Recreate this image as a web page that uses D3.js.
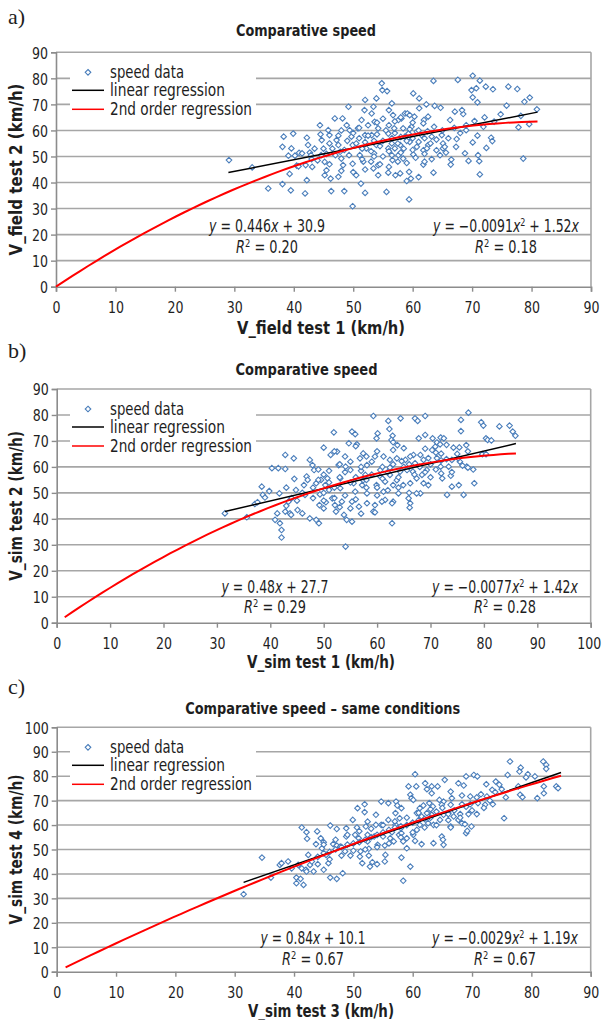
<!DOCTYPE html>
<html><head><meta charset="utf-8">
<script src="https://cdn.jsdelivr.net/npm/d3@7"></script>
<style>body{margin:0;background:#fff}svg{display:block}</style>
</head><body>
<svg id="chart" width="604" height="1020"></svg>
<script>
// ---------- data ----------
const speedA = [[29.1,48.6],[33,45.8],[35.7,37.7],[38.1,53.7],[38.3,57.6],[39.9,58.8],[39.6,53.1],[39.1,50.3],[40.2,50.3],[40.9,51.4],[39.3,43.3],[38.1,39.4],[39.5,37],[40.5,46.5],[40.8,46.2],[41.9,35.8],
[42.2,57.2],[42.4,54.4],[42.7,51.5],[41.4,51.2],[42,46.7],[42.2,40.9],[43.1,46],[42.9,50.5],[44.4,62],[44.7,56.3],[45,53],[44.6,50.5],[45.2,47.9],[45.5,44.7],[45.2,42.8],[46.2,41.5],[46.3,36.7],[45.8,60.1],[46,58.2],
[46.9,64.6],[47.2,56.3],[47.5,54.4],[47.8,51.8],[48,49.2],[48.3,46.7],[47.5,42.2],[48.5,36.7],[48.2,64.6],[49.2,69.1],[48.9,62],[49.4,60.1],[49.7,57.6],[49.9,54.4],[49.3,50.5],[49.9,47.2],[50.5,42.8],[49.9,30.9],
[52,71.7],[51.9,67.8],[51.4,64],[50.8,60.8],[52,58.2],[52.2,53.1],[51.1,50.5],[51.7,48],[51.3,39.6],[52,36],[53.9,72.3],[53.4,69.1],[53.1,66.5],[53.6,63.3],[54.2,60.8],[53.1,58.2],[53.9,54.4],[53.5,51.2],[54.2,46.7],[53.4,45.4],[54.2,42.8],[54.8,78.1],[54.9,75.5],
[63.5,79],[67.6,79.4],[70.1,81],[71.3,79.1],[72.3,76.8],[73.5,75.8],[76.1,76.8],[77.6,75.9],[69.9,75.5],[70.7,76.2],[70.1,72.7],[70.9,70.8],[55.7,75.1],[60.1,74.2],[61.1,72.3],[78.8,71],[79.7,72.6],[80.9,68.1],[75.8,69.5],[78.2,65.6],[79.6,62.4],[77.8,61.2],[74.8,66.2],[73.7,63.4],[72.1,65],[71.9,61.4],[70.4,63.6],[69,60.1],[68.5,66.3],[68.3,67.8],[67.1,67.2],[66.3,64],[67.4,56.7],[67.3,53.7],[68.8,51.2],[70.1,55.4],[70.9,58],[71,50.5],[69.4,48.3],[71.2,48.2],[72.4,53.3],[73.2,57.2],[73.4,55.9],[71.3,43.1],[78.6,49.2],
[66.5,48.8],[66.4,46.9],[65.6,51.5],[65.1,55],[64.9,58.2],[63.6,61.4],[64.7,68.7],[63.7,69.4],[62.3,70],[62.6,65.3],[61.9,64],[61.1,68.5],[60.3,65.3],[59.8,61.4],[60.7,59.5],[61.8,62.7],[62.5,59.7],[63.2,57.6],[62.6,54.4],[64,52.4],[64.6,50.5],[63.2,49],[61.8,46.9],[63.5,43.8],[61,42.1],[59.4,44.1],[59.7,41.5],[59,40.6],[57.9,43.5],[57.1,42.8],[55.9,43.8],[59.4,33.5],[60.1,50.8],[60.7,53.7],[59.5,55.6],[58.7,57.6],[59.3,58.8],[58.4,60.8],[57.6,64],[56.7,65.9],[56,67.8],[56.5,70.4],[58.1,64.6],[58.7,66.5],[59.1,66.5],[59.5,65.9],[57,53.1],[57.9,54.4],[56.5,55],[55.9,58.8],[56.9,60.8],[57.6,50.5],[58.4,49.2],[56.6,48.6],[55.9,53.1],[61,55.6],[61.5,58.2],[61.8,52.4],[62.4,53.1],[65.1,53.1],[65.4,53.7],[55.6,36.4],
[50.5,55],[51,57],[51.5,53],[52,55.5],[52.5,58],[53,52],[53.5,56],[54,58.5],[54.5,54],[55,56],[55.5,60],[56,52],[56.5,57],[57,59],[57.5,55],[58,57.5],[58.5,53],[59,56],[59.5,60.5],[60,57],[50,59],[49,56],[48.5,52.5],[47,50.5],[46.5,53],[46,55],[45.5,51],[44,48.5],[43.5,53],[43,49],[44.5,58.5],[47.5,58],[48,60],[51,61],[52.5,62],[54,63],[55,64.5],[56,62],[57,63.5],[58,65],[60,63],[61,60],[62,57],[63,55],[64,56.5],[65,60],[66,57],[67,61],[68,59],[69,62],[53,48],[54.5,47],[56,46],[57.5,48],[59,47.5],[60.5,49.5],[62,48],[52,45],[50,44],[48,44.5],[46,47],[55,50],[56.5,50.5],[58,51.5],[60,52.5],[62,51],[51.5,49],[53.5,50]];

const speedB = [[31.5,42.1],[35.6,40.6],[37.1,45.7],[37.6,46.4],[38.6,49.2],[38.4,52.4],[39,48.2],[39.8,50.7],[40.3,59.5],[41.5,59.5],[42.8,64.6],[42.8,59.2],[44.4,63.3],[44.5,55.4],[40.9,39.6],[41.8,38.3],[42.1,35.7],[42.1,32.8],[41.3,42.1],[42.8,42.8],[43.7,42.1],[43.4,46.6],[41.7,49.8],[43,52],[44.8,51.1],[45.1,43.4],[43.9,41.5],[46,42.1],[46.5,49.2],[46.3,53],[46.8,56.3],[47.4,62.7],[47.9,60.7],[48.2,58.8],[47.4,40.2],[48.6,39.6],[49.1,38.3],[50,67.4],[49.3,49.4],[49.2,45.3],[50,44],[50.3,53],[50.7,55.6],[51,51.1],[51.3,64.6],[51.9,73.3],[51.6,47.9],[52.1,45.3],[52.3,42.8],[52.5,65.9],[52.8,60.7],[53.1,55.6],[53.1,51.8],[53.4,46.6],[53.8,41.5],[54.1,29.3],[54.3,39.6],[55.3,38.9],[54.7,69.1],[55.3,73.6],[55.9,72.6],[56.2,68.7],[54.1,60.1],[55,58.8],[55.6,53.7],[55.9,50.5],[55.3,46.6],[56.6,44.7],[56.8,63.3],[57.4,65.2],[58.1,60.7],[57.8,56.9],[57.2,53],[58.1,49.8],[58.1,46],[57.4,54.9],[50.4,46.4],[48.6,53.7],[49.5,55],
[59.3,79.6],[62.1,77.7],[64.4,78.7],[67.1,78.7],[67.6,77.7],[69,79.6],[75.7,78.1],[77.1,80.9],[79.5,77.2],[79.9,75.9],[82.9,75.6],[84.8,75.9],[85.4,73.6],[85.9,72],[75.7,73.8],[62.3,74.6],[60.1,72.9],[59.9,71],[62.9,72],[62.7,70.4],[63,69.5],[67.8,71],[69,72.3],[70.4,71],[71.9,71.3],[72.5,71],[71.2,69.4],[70.9,67.8],[70.3,66.5],[71.8,68.7],[73,68.5],[74.3,67.4],[75.4,67.5],[76.7,68.4],[80.4,71],[80.7,70.4],[81.4,70.2],[79.7,64.9],[80.4,64.9],[76.8,60.1],[77,59.7],[78.2,53.7],[76.2,49.2],[73.1,49.2],[75.3,53],[74,52.4],[73.8,56.6],[72.2,55.6],[71.9,60.1],[73.4,60.1],[75.5,62],[75.2,63.3],[74,62.7],[71.2,63.4],[72,65.1],[69.6,63.4],[68.7,62.7],[68.1,64.6],[66.8,64.6],[66.2,64],[65.3,62.7],[64.6,62.2],[63.7,63.3],[62.4,62.7],[61.2,64],[59.6,64],[69.3,58.8],[68.4,56.9],[67.4,55.6],[69.6,53],[68.7,53.7],[68.1,49.8],[67.4,49.8],[66.2,53.7],[64.9,53],[63.7,54.9],[62.4,56.9],[61.5,54.3],[60.6,56.3],[59.9,53],[61.2,50.5],[63,46.6],[62.8,46],[64,49.8],[66.2,46],[66.1,44.3],[65.9,47.9],[61.5,47.3],[60.9,46.6],[59.6,45.3],[59.3,42.8],[59.6,42.5],[62.8,38.3],[64.3,58.2],[65.6,58.8],[66.7,58.2],[62.4,59.7],[60.6,58.8],[67.1,61.4],[65,67.2],[63,66.5],[63.8,68.4],
[48,52],[49,55],[50,57],[51,54],[52,52],[53,56],[54,58],[55,54],[56,56],[57,58.5],[58,55],[59,57],[60,52],[61,55.5],[62,58],[63,53],[64,56],[65,60],[66,61],[67,57],[68,60],[69,58],[70,61],[71,59],[72,62.5],[50,50],[52,48],[54,49],[56,47.5],[58,52],[60,49],[61,60],[63,61],[53,61],[55,62],[57,60],[51,58.5],[49,59],[47,55],[46,50],[45,47],[44,48],[43,45],[48,48],[50,47],[55,44],[57,42],[53,44.5],[62,51],[64,52],[66,50],[70,56],[72,57.5],[74,58],[76,60.5],[78,59],[73,63],[75,65],[77,66],[71,65.5],[69,67],[58,64],[60,66],[56,68],[54,64],[52,66],[59,62]];

const speedC = [[31.5,31.7],[34.6,46.7],[36.1,38.5],[37.6,43.7],[37.9,44.4],[39,45.1],[39.6,42.3],[40.4,36.2],[40.4,38.5],[41.1,38],[41.6,35.5],[41.3,42.3],[40.7,43.7],[42,41.7],[42.4,47.8],[42.7,43.7],[42.1,41],[43,45.1],[43.3,41],[43.9,57.4],[44,44],[44.7,50.5],[45,41.7],[45.8,44.4],[46.1,38.5],[47.2,38],[41.3,59],[42.1,57.1],[42.2,54.4],[43.7,52.2],[44.5,54.6],[45,53],[45.4,47.8],[46.1,59.8],[46.6,52.2],[47.2,58.4],[47.2,51.6],[47.8,51.2],[48.2,40.3],[48.6,49.2],[48.8,58.7],[48.8,55.3],[49.5,47.5],[49.9,62.1],[50.3,56],[50.7,66.9],[50.6,59],[50.9,54.6],[51.2,49.2],[51.1,47.1],[51.5,44.4],[51.9,68.5],[51.9,65.3],[52.4,61.4],[52.1,59.4],[52.4,56],[52.4,53.3],[52.6,50.3],[52.6,47.5],[52.8,43],[53.2,44.8],[53.8,64.2],[53.8,60.1],[53.5,55.3],[54.1,51.9],[54,44],[54.7,69.6],[54.7,60.1],[55,55.3],[55.3,51.6],[55.4,47.8],[55.3,45.1],[55.9,69],[55.9,62.1],[56.2,54.6],[56.5,57.1],[56.8,53.3],[57.1,64.9],[57.1,60.1],[57.2,69.6],[57.4,68],[57.7,56],[57.8,62.8],[58,58.7],[58.1,66.9],
[60.4,80.8],[59.3,75.8],[60.6,75.8],[59.6,72.4],[59.8,71],[60.1,70.3],[62.1,77.1],[62.4,74.7],[63.2,75.8],[63.2,73],[64.2,75.8],[65.4,78.5],[66.4,73.7],[67.7,77.1],[68.6,76.2],[69,79.9],[70.3,80.5],[70.9,79.9],[72.4,76.7],[74,77.8],[74.6,76.5],[75,74.7],[73.4,74.4],[73.9,73.5],[76.4,86],[78.2,83.5],[78,81.9],[79.4,80.8],[79.1,79.5],[80.6,79.9],[82,86],[82.5,84.6],[82.5,83],[84.2,75.8],[84.5,75.1],[82.1,75.8],[82.1,73],[81,71],[78.1,72.4],[78.5,71.4],[77.8,75.8],[75.7,71.3],[75.4,62.8],[73.5,68.5],[72.5,71.7],[71.5,72.6],[69.7,71.7],[69.7,68.5],[68.3,72.1],[68.3,68.5],[66.6,71],[66.4,68.3],[65.2,69.6],[64.9,68.3],[64.5,70.3],[63.4,67.6],[62.8,69],[61.8,68],[61.2,66.9],[60.7,64.9],[61.5,63.5],[62.4,64.9],[63.2,64.2],[64,65.5],[65.2,64.2],[66,64.9],[66.9,63.5],[68,64.5],[69.4,64.5],[70.8,64.5],[72.2,68.3],[68.3,60.8],[67.7,62.1],[66.4,59.4],[64.6,62.1],[63.5,60.1],[62.6,60.8],[61.2,60.1],[60.7,58],[60.1,56],[59,54.6],[58.4,53.3],[58.1,56.7],[60.4,53.5],[61.5,52.2],[63.5,52.6],[64.9,55.3],[65.2,51.9],[65.1,54],[66.4,59],[69,56.7],[69.2,57.6],[69.9,59.4],[68.8,60.4],[59.6,43],[58.4,37.2],[58.1,46.7],[59,50.5],[70.8,71.3],[76,80.5],
[44,47],[45,48.5],[46,49],[47,50],[48,51],[49,52],[50,52.5],[51,53],[52,54],[53,55],[54,56],[55,57],[56,58],[57,59],[58,59.5],[59,60],[60,61],[61,62],[62,62.5],[63,63],[46,46],[48,47.5],[50,49.5],[52,50],[54,51],[56,52.5],[58,55],[60,57],[62,59],[64,60],[66,62],[45,52],[47,54],[49,56],[51,57.5],[53,58.5],[55,60],[57,61.5],[59,63],[61,65],[63,66.5],[65,67],[67,66],[69,67.5],[71,69],[73,70],[70,66],[72,67],[68,63],[66,64.5]];

// regression coefficients as printed on the chart
const linA = [0.446, 30.9], quadA = [-0.0091, 1.52];
const linB = [0.48, 27.7],  quadB = [-0.0077, 1.42];
const linC = [0.84, 10.1],  quadC = [-0.0029, 1.19];
const r2A = ["0.20", "0.18"], r2B = ["0.29", "0.28"], r2C = ["0.67", "0.67"];
const ticks90 = [0,10,20,30,40,50,60,70,80,90];
const ticks100 = [0,10,20,30,40,50,60,70,80,90,100];
const legendLabels = ["speed data", "linear regression", "2nd order regression"];

// ---------- drawing ----------
const svg = d3.select("#chart");
const NARROW = "'DejaVu Sans Condensed','Liberation Sans Narrow',sans-serif";
const GRID = "#a6a6a6", AXIS = "#8c8c8c", MARK = "#4a7ebb", INK = "#1e1e1e";
const fit = (sel, w) => sel.attr("textLength", w).attr("lengthAdjust", "spacingAndGlyphs");

const panels = [
  {tag:"a)", tagY:24, title:"Comparative speed", titleY:36, titleX:306, titleW:140,
   xLabel:"V_field test 1 (km/h)", yLabel:"V_field test 2 (km/h)", xLabelY:334, xLabelW:168, yLabelW:172,
   x0:56, x1:591, yTop:52.3, yBot:286.7, xMax:90, yMax:90, xt:ticks90, yt:ticks90,
   data:speedA, lin:linA, linR:[29,81], quad:quadA, quadR:[0,81], r2:r2A,
   eqL:[267,"0.446","+ 30.9",116], eqR:[506,"0.0091","1.52",146], eqY:[232,253]},
  {tag:"b)", tagY:358, title:"Comparative speed", titleY:375, titleX:306.5, titleW:142,
   xLabel:"V_sim test 1 (km/h)", yLabel:"V_sim test 2 (km/h)", xLabelY:667.5, xLabelW:148, yLabelW:150,
   x0:56.7, x1:590.7, yTop:389, yBot:622.7, xMax:100, yMax:90, xt:ticks100, yt:ticks90,
   data:speedB, lin:linB, linR:[31.5,86], quad:quadB, quadR:[1.5,86], r2:r2B,
   eqL:[275,"0.48","+ 27.7",107], eqR:[505,"0.0077","1.42",146], eqY:[592.5,613]},
  {tag:"c)", tagY:694, title:"Comparative speed \u2013 same conditions", titleY:714, titleX:322.7, titleW:275,
   xLabel:"V_sim test 3 (km/h)", yLabel:"V_sim test 4 (km/h)", xLabelY:1016.5, xLabelW:146, yLabelW:150,
   x0:56.7, x1:590.7, yTop:727.3, yBot:971.7, xMax:90, yMax:100, xt:ticks90, yt:ticks100,
   data:speedC, lin:linC, linR:[31.5,85], quad:quadC, quadR:[1.5,85], r2:r2C,
   eqL:[313,"0.84","+ 10.1",105], eqR:[505,"0.0029","1.19",146], eqY:[944,964.5]}
];

const diamond = r => `M0,${-r}L${r},0L0,${r}L${-r},0Z`;

// a text made of several runs, scaled horizontally to a target width
function richText(parent, cx, cy, width, runs) {
  const gg = parent.append("g");
  const t = gg.append("text").attr("x",0).attr("y",0).attr("text-anchor","middle")
    .style("font-family",NARROW).style("font-size","17px").attr("fill",INK);
  runs.forEach(r => {
    const s = t.append("tspan").text(r.t);
    if (r.i) s.style("font-style","italic");
    if (r.sup) s.attr("dy",-6).style("font-size","11px");
    if (r.down) s.attr("dy",6);
  });
  const w = t.node().getComputedTextLength();
  gg.attr("transform",`translate(${cx},${cy}) scale(${width/w},1)`);
}

panels.forEach(p => {
  const g = svg.append("g");
  const x = d3.scaleLinear().domain([0,p.xMax]).range([p.x0,p.x1]);
  const y = d3.scaleLinear().domain([0,p.yMax]).range([p.yBot,p.yTop]);

  // panel tag
  g.append("text").attr("x",8).attr("y",p.tagY).attr("fill",INK)
    .style("font-family","'Liberation Serif','DejaVu Serif',serif").style("font-size","22px").text(p.tag);
  // title
  fit(g.append("text").attr("x",p.titleX).attr("y",p.titleY).attr("text-anchor","middle").attr("fill",INK)
    .style("font-family",NARROW).style("font-weight","bold").style("font-size","16px").text(p.title), p.titleW);

  // gridlines
  g.append("g").selectAll("line").data(p.yt.filter(v=>v>0)).join("line")
    .attr("x1",p.x0).attr("x2",p.x1).attr("y1",d=>y(d)).attr("y2",d=>y(d))
    .attr("stroke",GRID).attr("stroke-width",1.6);
  // right border
  g.append("line").attr("x1",p.x1).attr("x2",p.x1).attr("y1",p.yTop).attr("y2",p.yBot)
    .attr("stroke",GRID).attr("stroke-width",1.6);

  // axes
  const ax = g.append("g").attr("transform",`translate(0,${p.yBot})`)
    .call(d3.axisBottom(x).tickValues(p.xt).tickSize(5).tickPadding(6));
  const ay = g.append("g").attr("transform",`translate(${p.x0},0)`)
    .call(d3.axisLeft(y).tickValues(p.yt).tickSize(5).tickPadding(3));
  [ax,ay].forEach(a => {
    a.select(".domain").attr("stroke",AXIS).attr("stroke-width",1.6);
    a.selectAll(".tick line").attr("stroke",AXIS).attr("stroke-width",1.4);
    a.selectAll("text").style("font-family",NARROW).style("font-size","16px").attr("fill",INK)
      .each(function(d){ fit(d3.select(this), String(d).length*8); });
  });
  ax.selectAll("text").attr("dy","0.94em");
  ax.selectAll("text").filter(d => d >= 100).attr("dx", -2);
  ay.selectAll("text").attr("dy","0.36em");

  // axis titles
  fit(g.append("text").attr("x",321).attr("y",p.xLabelY).attr("text-anchor","middle").attr("fill",INK)
    .style("font-family",NARROW).style("font-weight","bold").style("font-size","17px").text(p.xLabel), p.xLabelW);
  fit(g.append("text").attr("transform",`translate(22,${(p.yTop+p.yBot)/2}) rotate(-90)`)
    .attr("text-anchor","middle").attr("fill",INK)
    .style("font-family",NARROW).style("font-weight","bold").style("font-size","18px").text(p.yLabel), p.yLabelW);

  // scatter
  g.append("g").selectAll("path").data(p.data).join("path")
    .attr("transform",d=>`translate(${x(d[0])},${y(d[1])})`)
    .attr("d",diamond(2.8)).attr("fill","#fff").attr("stroke",MARK).attr("stroke-width",1.1);

  // regression lines
  const linF = v => p.lin[0]*v + p.lin[1];
  const quadF = v => p.quad[0]*v*v + p.quad[1]*v;
  g.append("path").datum(p.linR)
    .attr("d", d3.line().x(v=>x(v)).y(v=>y(linF(v))))
    .attr("fill","none").attr("stroke","#000").attr("stroke-width",1.5);
  const qs = d3.range(p.quadR[0], p.quadR[1]+0.001, (p.quadR[1]-p.quadR[0])/60);
  g.append("path").datum(qs)
    .attr("d", d3.line().x(v=>x(v)).y(v=>y(quadF(v))))
    .attr("fill","none").attr("stroke","#ff0000").attr("stroke-width",2);

  // legend
  const ly = p.yTop;
  g.append("rect").attr("x",70).attr("y",ly+7).attr("width",186).attr("height",60).attr("fill","#fff");
  g.append("path").attr("transform",`translate(88,${ly+20})`).attr("d",diamond(2.8))
    .attr("fill","#fff").attr("stroke",MARK).attr("stroke-width",1.1);
  g.append("line").attr("x1",72).attr("x2",104).attr("y1",ly+38).attr("y2",ly+38).attr("stroke","#000").attr("stroke-width",1.5);
  g.append("line").attr("x1",72).attr("x2",104).attr("y1",ly+57).attr("y2",ly+57).attr("stroke","#ff0000").attr("stroke-width",1.5);
  const legW = [74,115,142];
  [20,38,57].forEach((o,i) => {
    fit(g.append("text").attr("x",110).attr("y",ly+o).attr("dy","0.36em")
      .style("font-family",NARROW).style("font-size","17px").attr("fill",INK).text(legendLabels[i]), legW[i]);
  });

  // equations
  richText(g, p.eqL[0], p.eqY[0], p.eqL[3],
    [{t:"y",i:1},{t:" = "+p.eqL[1]},{t:"x",i:1},{t:" "+p.eqL[2]}]);
  richText(g, p.eqL[0], p.eqY[1], 62,
    [{t:"R",i:1},{t:"2",sup:1},{t:" = "+p.r2[0],down:1}]);
  richText(g, p.eqR[0], p.eqY[0], p.eqR[3],
    [{t:"y",i:1},{t:" = \u2212"+p.eqR[1]},{t:"x",i:1},{t:"2",sup:1},{t:" + "+p.eqR[2],down:1},{t:"x",i:1}]);
  richText(g, p.eqR[0], p.eqY[1], 62,
    [{t:"R",i:1},{t:"2",sup:1},{t:" = "+p.r2[1],down:1}]);
});
</script>
</body></html>
